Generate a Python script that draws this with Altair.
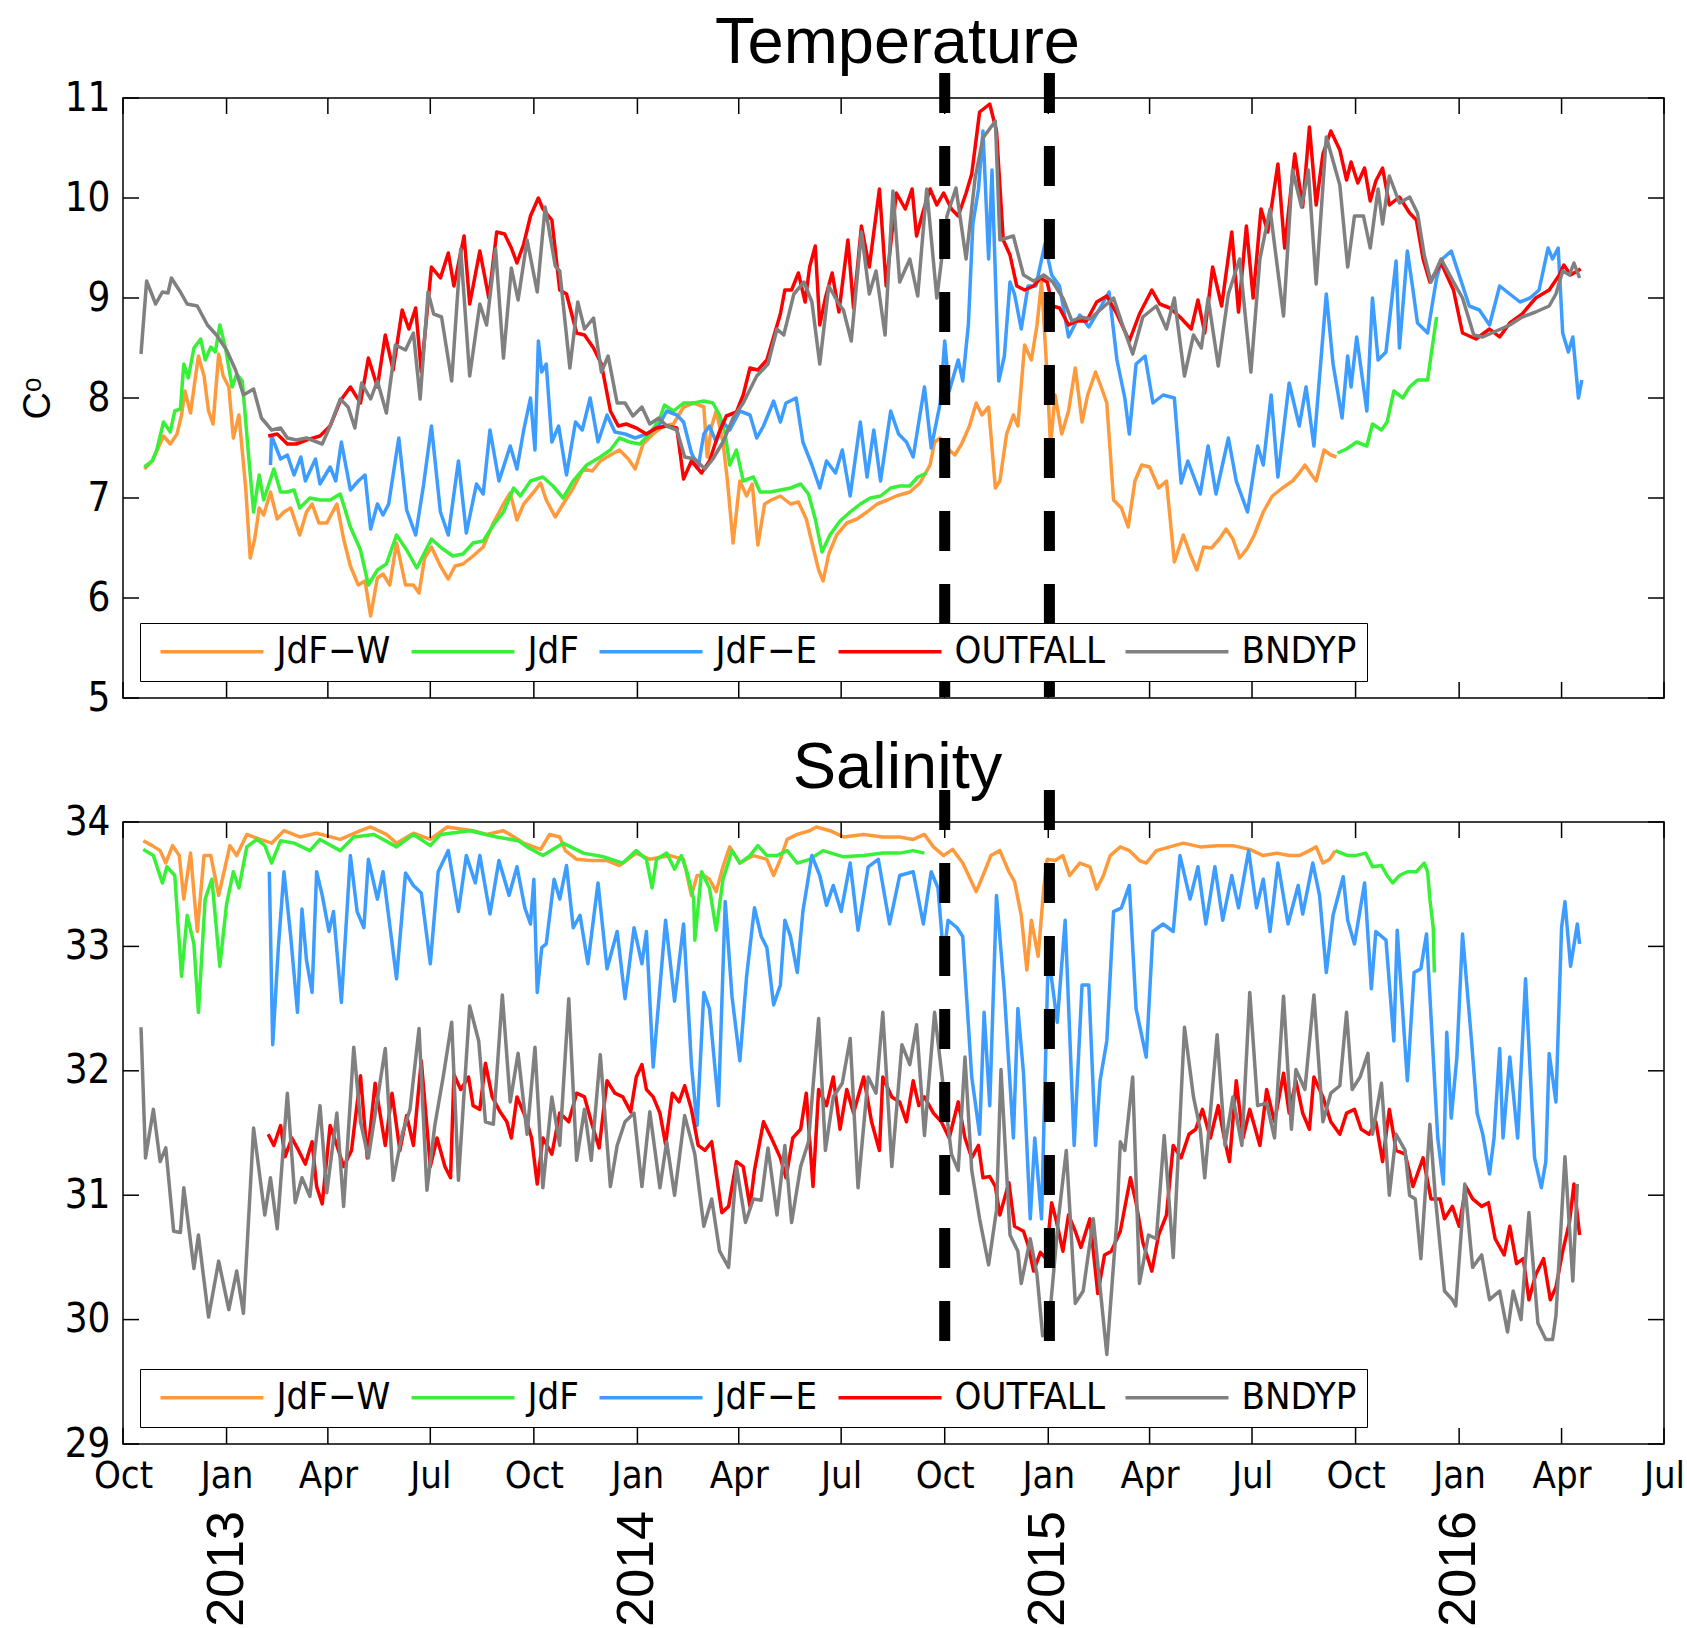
import altair as alt
import pandas as pd

START = pd.Timestamp("2012-10-01")

STATIONS = ["JdF\u2212W", "JdF", "JdF\u2212E", "OUTFALL", "BNDYP"]
COLORS = ["#ff9a3c", "#38f038", "#3c9cff", "#ff0000", "#808080"]
TITLES = ["Temperature", "Salinity"]

# ---------------- Temperature (days since 2012-10-01, degC) ----------------
T_JDFW_DAY = [19,26,30,36,42,48,52,55,60,64,67,72,76,80,85,89,94,98,103,109,113,117,121,125,131,137,143,149,157,163,168,174,181,190,196,202,209,215,220,226,231,237,243,251,258,263,268,274,282,289,295,302,311,320,329,338,344,350,356,365,371,376,384,391,400,409,417,424,433,441,449,455,462,471,480,489,498,507,516,519,523,527,533,537,542,548,554,559,564,570,576,584,593,600,607,613,618,622,627,634,643,652,661,670,679,687,699,708,717,721,726,732,739,745,752,758,763,769,775,779,785,791,795,801,807,812,816,821,824,828,834,840,846,852,857,864,869,874,880,887,893,899,905,912,920,927,934,942,948,954,960,967,974,980,986,992,999,1005,1013,1021,1030,1039,1045,1050,1056,1060,1067,1073,1078]
T_JDFW_VAL = [7.29,7.37,7.47,7.62,7.54,7.64,7.83,8.07,7.85,8.18,8.42,8.22,7.87,7.74,8.44,8.22,8.11,7.60,7.83,7.10,6.40,6.59,6.90,6.83,7.06,6.79,6.86,6.90,6.63,6.86,6.94,6.75,6.75,6.94,6.59,6.32,6.13,6.17,5.82,6.20,6.24,6.13,6.55,6.13,6.13,6.05,6.40,6.51,6.32,6.19,6.32,6.34,6.42,6.51,6.75,6.94,7.05,6.78,6.94,7.06,7.15,6.98,6.81,6.94,7.10,7.29,7.27,7.37,7.43,7.48,7.39,7.29,7.54,7.64,7.72,7.74,7.91,7.95,7.91,7.41,7.72,7.87,7.56,7.17,6.55,7.17,7.02,7.14,6.53,6.94,6.98,7.02,6.94,6.96,6.79,6.51,6.28,6.17,6.44,6.63,6.75,6.79,6.86,6.94,6.98,7.02,7.06,7.15,7.33,7.56,7.60,7.50,7.43,7.54,7.72,7.95,7.83,7.91,7.10,7.17,7.64,7.83,7.72,8.53,8.38,8.73,9.16,8.22,7.52,8.03,7.64,7.87,8.30,7.76,8.03,8.26,8.11,7.95,6.98,6.90,6.71,7.17,7.33,7.31,7.10,7.17,6.36,6.63,6.44,6.28,6.51,6.50,6.59,6.69,6.59,6.40,6.50,6.63,6.86,7.02,7.10,7.17,7.25,7.33,7.23,7.17,7.48,7.43,7.41]

T_JDF_DAY_A = [19,26,30,36,42,46,51,54,58,63,69,73,78,82,86,91,97,101,106,112,116,121,125,134,140,146,152,157,166,175,184,193,202,211,218,226,234,243,252,261,274,283,293,302,311,320,329,338,347,353,362,373,382,391,400,412,424,433,441,450,459,468,477,481,489,498,507,516,524,530,535,539,545,551,560,566,575,584,593,602,609,615,621,628,637,646,655,664,673,682,690,699,706,714]
T_JDF_VAL_A = [7.31,7.37,7.48,7.76,7.66,7.87,7.89,8.34,8.20,8.50,8.59,8.38,8.51,8.46,8.73,8.50,8.11,8.24,8.17,7.37,6.86,7.23,6.98,7.29,7.06,7.06,7.08,6.90,7.00,6.98,6.98,7.04,6.71,6.48,6.13,6.28,6.34,6.63,6.48,6.30,6.59,6.50,6.42,6.44,6.55,6.57,6.73,6.86,7.10,7.02,7.17,7.21,7.12,7.00,7.17,7.33,7.41,7.48,7.60,7.56,7.54,7.64,7.80,7.93,7.87,7.95,7.95,7.97,7.95,7.83,7.64,7.33,7.48,7.17,7.21,7.06,7.06,7.08,7.10,7.14,7.04,6.79,6.46,6.63,6.77,6.86,6.94,7.00,7.02,7.10,7.12,7.12,7.21,7.25]
T_JDF_DAY_B = [1079,1087,1096,1105,1110,1118,1123,1129,1137,1143,1150,1159,1162,1167]
T_JDF_VAL_B = [7.45,7.49,7.56,7.52,7.74,7.68,7.76,8.07,8.00,8.11,8.18,8.18,8.42,8.81]

T_JDFE_DAY = [131,132,140,146,152,158,162,171,175,184,189,194,202,209,215,220,226,231,236,245,252,260,267,274,282,289,298,305,314,320,326,334,344,350,356,362,366,369,372,376,381,387,394,402,408,415,422,430,437,446,455,465,476,483,492,498,505,511,516,521,527,533,539,548,557,563,569,578,584,589,598,604,612,619,625,633,639,646,655,661,667,673,682,689,696,702,712,718,726,730,734,742,746,751,755,760,764,769,772,778,783,788,792,798,804,811,819,825,832,840,850,858,867,876,883,890,894,900,908,915,924,934,940,946,957,964,971,982,989,999,1008,1013,1020,1026,1036,1045,1051,1058,1069,1075,1083,1088,1091,1096,1105,1110,1115,1122,1131,1134,1141,1146,1150,1159,1167,1172,1180,1187,1196,1205,1214,1223,1232,1241,1250,1258,1266,1270,1275,1279,1284,1288,1293,1296]
T_JDFE_VAL = [7.33,7.62,7.39,7.43,7.23,7.41,7.17,7.39,7.14,7.31,7.17,7.56,7.08,7.17,7.23,6.69,6.94,6.83,6.94,7.60,6.88,6.63,7.13,7.72,6.86,6.63,7.37,6.65,7.14,7.04,7.68,7.17,7.52,7.29,7.68,8.00,7.48,8.57,8.26,8.34,7.56,7.72,7.23,7.76,7.68,8.00,7.56,7.83,7.66,7.64,7.60,7.64,7.72,7.87,7.83,7.76,7.45,7.31,7.64,7.72,7.56,7.76,7.68,7.87,7.83,7.60,7.72,7.97,7.76,7.95,8.00,7.56,7.33,7.10,7.37,7.25,7.48,7.02,7.76,7.21,7.68,7.17,7.87,7.64,7.56,7.41,8.11,7.50,7.95,8.57,8.07,8.38,8.17,8.73,9.74,10.09,10.67,9.39,10.28,8.17,8.42,9.16,9.04,8.69,9.12,9.12,9.54,9.23,9.12,8.61,8.83,8.71,8.88,9.06,8.38,8.00,7.64,8.34,8.42,7.95,8.03,8.00,7.15,7.37,7.04,7.52,7.04,7.60,7.17,6.86,7.52,7.33,8.03,7.21,8.15,7.72,8.11,7.52,9.04,8.34,7.80,8.42,8.11,8.61,7.87,9.00,8.38,8.46,9.37,8.50,9.47,9.08,8.75,8.65,9.20,9.39,9.47,9.23,8.92,8.88,8.73,9.12,9.04,8.96,9.00,9.08,9.50,9.39,9.50,8.65,8.46,8.61,8.00,8.18]

T_OUT_DAY = [129,137,146,154,163,175,184,193,202,211,218,226,233,240,248,254,260,265,274,282,289,294,303,308,317,325,332,339,345,350,356,362,369,373,381,388,394,403,410,418,425,433,440,447,456,465,474,483,492,498,505,514,521,529,536,545,551,557,564,572,578,584,588,594,600,606,610,615,619,624,630,636,644,649,656,663,672,678,687,695,701,705,711,717,723,729,736,742,749,754,761,770,776,782,788,794,801,809,815,821,826,832,840,847,856,865,874,883,894,903,914,921,930,939,949,955,961,968,976,985,991,998,1004,1011,1017,1026,1032,1041,1048,1054,1060,1066,1073,1081,1087,1091,1097,1103,1108,1113,1119,1125,1134,1143,1149,1155,1161,1171,1182,1190,1202,1214,1223,1232,1243,1255,1267,1276,1280,1286,1295]
T_OUT_VAL = [7.62,7.64,7.54,7.54,7.58,7.62,7.72,7.97,8.11,7.95,8.40,8.11,8.63,8.28,8.88,8.69,8.90,8.26,9.31,9.20,9.45,9.12,9.62,8.94,9.47,9.00,9.66,9.64,9.50,9.35,9.54,9.82,10.00,9.89,9.78,9.08,9.04,8.65,8.63,8.50,8.34,7.87,7.72,7.74,7.70,7.64,7.70,7.72,7.70,7.19,7.37,7.25,7.37,7.64,7.82,7.86,8.03,8.30,8.28,8.38,8.61,8.84,9.08,9.08,9.25,8.96,9.31,9.52,8.73,9.00,9.25,8.86,9.58,8.90,9.72,9.31,10.09,9.12,10.05,9.89,10.09,9.62,9.87,10.09,9.93,10.05,9.89,9.82,10.05,10.24,10.86,10.94,10.67,9.58,9.43,9.12,9.08,9.12,9.20,9.16,8.92,8.90,8.73,8.77,8.77,8.96,9.02,8.84,8.57,8.84,9.08,8.94,8.90,8.81,8.69,8.98,8.65,9.31,8.92,9.66,8.86,9.72,9.00,9.89,9.66,10.34,9.50,10.44,9.91,10.71,9.93,10.44,10.67,10.48,10.18,10.36,10.15,10.30,9.97,10.17,10.30,9.93,10.01,9.85,9.78,9.39,9.16,9.35,9.08,8.65,8.59,8.69,8.61,8.75,8.84,9.00,9.08,9.23,9.33,9.23,9.29]

T_BND_DAY = [16,21,29,35,40,43,51,57,66,75,83,92,100,107,116,123,132,140,146,154,163,177,184,193,200,206,212,220,226,234,242,251,258,264,271,276,283,292,300,308,317,323,331,338,345,351,359,368,375,384,388,397,404,410,418,425,431,439,446,453,461,468,476,483,492,499,508,517,524,533,542,551,563,573,581,587,596,605,612,619,627,636,640,647,656,663,669,677,684,690,699,706,714,723,732,740,749,757,764,775,779,791,800,809,818,826,835,843,851,859,868,880,888,897,906,918,927,934,943,951,958,964,973,982,992,1002,1010,1019,1031,1039,1047,1053,1060,1069,1081,1088,1094,1102,1108,1115,1119,1125,1134,1143,1150,1156,1162,1171,1182,1190,1200,1208,1220,1232,1243,1255,1267,1273,1279,1285,1289,1294]
T_BND_VAL = [8.44,9.17,8.94,9.06,9.05,9.20,9.06,8.94,8.92,8.73,8.63,8.48,8.28,8.03,8.09,7.80,7.68,7.70,7.60,7.58,7.60,7.54,7.72,7.99,7.91,7.70,8.15,7.99,8.17,7.85,8.53,8.48,8.65,7.99,9.06,8.84,8.81,8.17,9.49,8.22,8.94,8.73,9.49,8.40,9.30,8.98,9.58,9.06,9.91,9.32,9.27,8.30,8.96,8.69,8.80,8.26,8.42,7.95,7.95,7.82,7.91,7.74,7.80,7.72,7.68,7.41,7.39,7.29,7.39,7.56,7.80,7.95,8.22,8.34,8.69,8.63,9.04,9.16,8.96,8.34,9.12,8.94,8.88,8.57,9.66,9.04,9.27,8.63,10.07,9.16,9.39,9.02,10.09,9.00,9.82,10.10,9.39,10.20,10.60,10.77,9.58,9.62,9.23,9.17,9.23,9.16,9.00,8.77,8.81,8.79,8.88,9.00,8.73,8.44,8.81,8.92,8.69,9.00,8.22,8.63,8.50,9.00,8.32,9.04,9.39,8.26,9.39,9.89,8.82,10.28,9.91,10.28,9.14,10.61,10.13,9.31,9.82,9.82,9.50,10.09,9.74,10.22,9.95,10.01,9.85,9.43,9.16,9.39,9.16,9.00,8.63,8.61,8.67,8.73,8.81,8.86,8.92,9.04,9.27,9.23,9.35,9.20]

# ---------------- Salinity (days since 2012-10-01, psu) ----------------
S_JDFW_DAY = [18,26,33,38,44,50,54,60,66,72,78,85,89,95,101,110,122,132,143,157,172,193,211,220,234,243,258,273,288,311,323,338,351,356,371,379,388,393,403,415,430,441,456,468,486,498,505,510,516,521,527,533,539,548,560,572,578,584,590,599,610,616,628,640,658,675,690,702,712,720,729,737,746,758,764,771,779,787,792,798,803,807,813,818,821,828,835,841,850,859,865,871,877,886,894,903,909,918,930,942,957,972,986,1001,1013,1025,1036,1045,1054,1060,1066,1072,1077]
S_JDFW_VAL = [33.85,33.81,33.77,33.67,33.81,33.73,33.38,33.75,33.12,33.73,33.73,33.41,33.57,33.81,33.73,33.90,33.86,33.83,33.93,33.88,33.91,33.86,33.93,33.96,33.90,33.83,33.91,33.86,33.96,33.93,33.90,33.93,33.86,33.83,33.78,33.90,33.88,33.77,33.70,33.69,33.69,33.65,33.75,33.70,33.73,33.70,33.41,33.57,33.57,33.54,33.44,33.64,33.80,33.67,33.73,33.70,33.57,33.70,33.86,33.90,33.93,33.96,33.93,33.88,33.90,33.88,33.88,33.86,33.90,33.80,33.73,33.78,33.67,33.44,33.57,33.73,33.77,33.60,33.52,33.25,32.81,33.21,32.92,33.47,33.70,33.69,33.73,33.57,33.67,33.64,33.46,33.57,33.73,33.80,33.77,33.69,33.67,33.77,33.80,33.83,33.80,33.81,33.81,33.78,33.73,33.75,33.73,33.73,33.77,33.80,33.67,33.70,33.77]

S_JDF_DAY_A = [18,27,35,39,46,52,57,63,67,73,79,86,92,98,103,110,119,126,132,140,152,166,175,193,205,223,243,258,273,282,308,332,351,359,373,391,409,427,444,456,465,470,474,483,490,496,501,507,508,514,521,527,533,541,548,557,564,572,581,590,599,610,622,640,658,675,690,702,712]
S_JDF_VAL_A = [33.78,33.73,33.51,33.64,33.57,32.76,33.25,33.02,32.47,33.38,33.54,32.84,33.34,33.60,33.47,33.80,33.86,33.81,33.67,33.85,33.83,33.77,33.86,33.77,33.88,33.90,33.80,33.90,33.81,33.90,33.93,33.88,33.85,33.80,33.73,33.83,33.75,33.72,33.67,33.77,33.70,33.47,33.70,33.75,33.62,33.73,33.60,33.38,33.05,33.60,33.47,33.13,33.54,33.77,33.67,33.73,33.81,33.73,33.73,33.77,33.67,33.70,33.77,33.72,33.73,33.75,33.75,33.77,33.75]
S_JDF_DAY_B = [1077,1088,1095,1104,1110,1118,1123,1128,1134,1141,1149,1156,1159,1161,1164,1165]
S_JDF_VAL_B = [33.77,33.73,33.73,33.75,33.64,33.65,33.57,33.51,33.57,33.60,33.60,33.67,33.60,33.38,33.15,32.79]

S_JDFE_DAY = [130,133,138,143,149,155,159,163,168,172,177,183,187,194,202,208,214,218,226,231,243,251,258,265,273,280,289,298,305,313,317,326,334,343,350,357,362,365,368,372,376,383,388,394,400,406,413,422,430,439,446,454,461,465,471,482,490,498,505,510,516,521,529,535,541,548,554,561,567,572,578,584,588,593,599,604,612,619,625,631,638,646,653,662,671,681,690,702,711,718,724,729,733,741,746,754,761,765,770,776,783,791,795,800,806,810,816,822,830,837,845,852,858,864,868,874,880,887,894,900,909,915,924,933,939,948,955,962,970,977,985,991,1000,1007,1013,1019,1026,1035,1044,1048,1057,1063,1069,1075,1084,1088,1094,1103,1109,1113,1122,1129,1132,1141,1147,1153,1158,1162,1168,1173,1176,1180,1185,1190,1198,1203,1208,1214,1218,1223,1226,1232,1239,1246,1254,1260,1264,1267,1273,1278,1281,1286,1292,1294]
S_JDFE_VAL = [33.60,32.21,32.99,33.60,33.08,32.47,33.30,32.89,32.63,33.60,33.41,33.12,33.28,32.55,33.73,33.28,33.15,33.70,33.38,33.60,32.74,33.59,33.49,33.43,32.86,33.60,33.77,33.28,33.73,33.51,33.73,33.26,33.69,33.41,33.64,33.31,33.18,33.54,32.63,32.99,33.02,33.54,33.38,33.65,33.15,33.25,32.86,33.51,32.82,33.12,32.58,33.15,32.86,33.12,32.03,33.21,32.56,33.18,32.05,31.56,32.63,32.50,31.72,33.36,32.60,32.08,32.76,33.31,33.08,32.99,32.53,32.69,33.21,33.08,32.79,33.28,33.73,33.57,33.33,33.49,33.28,33.67,33.13,33.64,33.70,33.18,33.57,33.60,33.18,33.60,33.47,32.92,33.21,33.15,33.08,31.95,31.49,32.47,31.72,33.41,32.63,31.46,32.50,31.98,30.81,31.46,30.81,32.94,32.39,33.21,31.40,32.69,32.69,31.40,31.92,32.24,33.28,33.31,33.49,32.50,32.11,33.12,33.18,33.12,33.73,33.38,33.64,33.18,33.64,33.21,33.57,33.31,33.77,33.31,33.54,33.12,33.67,33.18,33.49,33.26,33.67,33.41,32.79,33.25,33.56,33.21,33.02,33.51,32.66,33.12,33.05,32.24,33.13,31.92,32.79,32.82,33.10,32.44,31.46,31.09,32.31,31.62,32.11,33.10,32.24,31.66,31.49,31.17,31.46,32.18,31.46,32.11,31.46,32.74,31.30,31.06,31.27,32.14,31.75,33.15,33.36,32.84,33.18,33.02]

S_OUT_DAY = [129,134,140,144,150,156,162,168,172,177,184,190,196,203,211,217,224,233,239,246,252,258,265,273,279,286,291,294,300,307,311,317,322,328,335,341,345,350,357,363,368,373,381,388,396,403,410,416,423,430,437,444,451,456,461,465,471,477,482,488,494,499,505,511,517,523,527,532,538,545,551,557,561,569,576,584,589,595,602,607,613,618,625,631,637,643,649,658,665,672,675,683,690,696,702,707,712,720,727,734,742,748,754,760,764,770,775,779,787,792,800,804,809,815,820,825,829,835,840,846,851,859,866,872,878,886,895,900,906,914,920,927,933,940,947,953,959,966,973,979,983,989,995,1001,1010,1016,1023,1031,1036,1042,1048,1054,1058,1066,1073,1081,1087,1094,1100,1107,1113,1119,1125,1131,1139,1146,1155,1162,1170,1174,1181,1187,1193,1199,1207,1213,1219,1227,1232,1238,1244,1249,1255,1262,1268,1273,1279,1285,1289,1294]
S_OUT_VAL = [31.49,31.40,31.56,31.31,31.46,31.36,31.25,31.43,31.07,30.93,31.56,31.40,31.23,31.36,31.96,31.30,31.90,31.40,31.82,31.36,31.64,31.40,32.08,31.23,31.46,31.23,31.14,31.97,31.85,31.95,31.72,31.69,32.06,31.79,31.67,31.59,31.46,31.79,31.64,31.46,31.09,31.46,31.33,31.66,31.59,31.82,31.79,31.59,31.38,31.92,31.82,31.79,31.67,31.95,32.05,31.85,31.79,31.66,31.41,31.82,31.75,31.88,31.69,31.40,31.36,31.43,31.17,30.86,30.91,31.27,31.23,30.91,31.20,31.59,31.46,31.30,31.14,31.46,31.53,31.82,31.07,31.85,31.72,31.95,31.53,31.85,31.66,31.95,31.59,31.36,31.95,31.79,31.75,31.59,31.92,31.72,31.79,31.66,31.59,31.46,31.75,31.46,31.30,31.40,31.14,31.15,31.07,30.84,31.10,30.75,30.71,30.60,30.39,30.54,30.49,30.94,30.80,30.55,30.84,30.71,30.58,30.81,30.21,30.52,30.55,30.71,31.14,30.94,30.62,30.39,30.68,30.84,31.40,31.30,31.49,31.53,31.69,31.46,31.72,31.43,31.27,31.92,31.46,31.69,31.40,31.85,31.59,31.98,31.66,31.92,31.66,31.53,31.95,31.79,31.59,31.49,31.66,31.69,31.53,31.49,31.59,31.27,31.69,31.36,31.33,31.07,31.30,30.97,30.97,30.81,30.91,30.75,31.07,30.97,30.91,30.94,30.65,30.52,30.75,30.45,30.49,30.16,30.36,30.49,30.16,30.26,30.55,30.78,31.09,30.68]

S_BND_DAY = [16,20,27,33,38,45,51,54,63,67,76,85,94,101,107,116,126,131,137,146,153,159,166,175,181,190,196,205,211,218,233,240,248,255,263,270,277,285,292,298,308,316,322,329,337,344,351,359,366,373,381,388,396,403,410,416,424,433,439,446,454,461,468,477,483,490,499,508,516,523,530,538,545,553,560,567,573,581,588,594,602,609,618,624,631,639,646,653,662,669,675,683,692,699,705,712,721,729,736,742,748,754,761,769,776,780,788,795,798,806,812,817,822,831,838,846,853,862,868,874,883,886,890,897,903,911,918,925,933,943,951,957,961,972,979,986,994,1001,1008,1016,1023,1031,1038,1042,1050,1058,1066,1073,1081,1087,1092,1099,1106,1110,1118,1125,1131,1139,1143,1148,1153,1161,1166,1174,1181,1184,1192,1199,1207,1214,1223,1230,1235,1242,1249,1257,1264,1270,1273,1281,1288,1292]
S_BND_VAL = [32.35,31.30,31.69,31.27,31.38,30.71,30.70,31.06,30.41,30.68,30.02,30.47,30.08,30.39,30.05,31.54,30.84,31.14,30.73,31.82,30.94,31.14,30.99,31.72,31.02,31.66,30.91,32.19,31.59,31.30,32.18,31.12,31.49,31.69,32.34,31.04,31.56,31.98,32.39,31.12,32.52,32.24,31.59,31.57,32.61,31.75,32.14,31.49,32.19,31.06,31.79,31.40,32.58,31.28,31.69,31.28,32.13,31.07,31.40,31.59,31.66,31.07,31.67,31.06,31.43,31.00,31.64,31.33,30.75,30.97,30.55,30.42,31.23,30.78,30.97,30.96,31.38,30.84,31.40,30.78,31.23,31.43,32.42,31.36,31.79,31.90,32.26,31.06,31.95,31.82,32.47,31.23,32.21,32.05,32.37,31.48,32.47,31.85,31.33,31.20,32.11,31.20,30.81,30.44,30.88,32.01,30.68,30.55,30.29,30.65,30.36,29.87,29.90,30.81,31.36,30.13,30.23,30.81,30.26,29.72,30.81,31.43,31.36,31.95,30.29,30.68,30.65,31.48,30.50,32.35,31.79,31.53,31.14,32.29,31.40,31.79,31.40,32.63,31.72,31.74,31.46,32.60,31.53,32.01,31.85,32.61,31.59,31.82,31.88,32.47,31.85,31.95,32.14,31.49,31.90,31.00,31.49,31.36,31.00,30.97,30.49,31.57,30.97,30.23,30.16,30.11,31.09,30.42,30.52,30.16,30.23,29.90,30.23,30.00,30.86,29.97,29.84,29.84,30.03,31.31,30.31,31.09]

# ---------------- axes / annotations ----------------
X_TICK_DATES = ["2012-10-01","2013-01-01","2013-04-01","2013-07-01","2013-10-01","2014-01-01",
                "2014-04-01","2014-07-01","2014-10-01","2015-01-01","2015-04-01","2015-07-01",
                "2015-10-01","2016-01-01","2016-04-01","2016-07-01"]
T_TICKS = [5, 6, 7, 8, 9, 10, 11]
S_TICKS = [29, 30, 31, 32, 33, 34]
YEAR_LABELS = ["2013", "2014", "2015", "2016"]
YEAR_DATES = ["2013-01-01", "2014-01-01", "2015-01-01", "2016-01-01"]
EVENT_DATES = ["2014-10-01", "2015-01-02"]

NARROW = "Liberation Sans Narrow, Arial Narrow, DejaVu Sans Condensed, Liberation Sans, sans-serif"
REG = "Liberation Sans, Arial, Helvetica, sans-serif"

W = 1541
H_T = 600
H_S = 622


def build(series):
    rows = []
    for station, seg, days, vals in series:
        for d, v in zip(days, vals):
            rows.append({"station": station, "seg": station + seg,
                         "date": START + pd.Timedelta(days=d), "value": v})
    return pd.DataFrame(rows)


temp_df = build([
    (STATIONS[0], "a", T_JDFW_DAY, T_JDFW_VAL),
    (STATIONS[1], "a", T_JDF_DAY_A, T_JDF_VAL_A),
    (STATIONS[1], "b", T_JDF_DAY_B, T_JDF_VAL_B),
    (STATIONS[2], "a", T_JDFE_DAY, T_JDFE_VAL),
    (STATIONS[3], "a", T_OUT_DAY, T_OUT_VAL),
    (STATIONS[4], "a", T_BND_DAY, T_BND_VAL),
])
sal_df = build([
    (STATIONS[0], "a", S_JDFW_DAY, S_JDFW_VAL),
    (STATIONS[1], "a", S_JDF_DAY_A, S_JDF_VAL_A),
    (STATIONS[1], "b", S_JDF_DAY_B, S_JDF_VAL_B),
    (STATIONS[2], "a", S_JDFE_DAY, S_JDFE_VAL),
    (STATIONS[3], "a", S_OUT_DAY, S_OUT_VAL),
    (STATIONS[4], "a", S_BND_DAY, S_BND_VAL),
])

xtick_df = pd.DataFrame({"date": pd.to_datetime(X_TICK_DATES)})
year_df = pd.DataFrame({"date": pd.to_datetime(YEAR_DATES), "label": YEAR_LABELS})
event_df = pd.DataFrame({"date": pd.to_datetime(EVENT_DATES)})

x_values = [alt.DateTime(year=int(s[:4]), month=int(s[5:7]), date=1) for s in X_TICK_DATES]
x_scale = alt.Scale(domain=[alt.DateTime(year=2012, month=10, date=1),
                            alt.DateTime(year=2016, month=7, date=1)])


def panel(df, ticks, ydom, height, title, ytitle, legend_y, show_labels, rule_top, rule_bot,
          title_y):
    xaxis = alt.Axis(values=x_values, format="%b", labels=show_labels, ticks=False, tickSize=0,
                     domain=False, grid=False, title=None, labelFont=NARROW, labelFontSize=38,
                     labelColor="black", labelPadding=13, labelOverlap=False, labelFlush=False)
    X = alt.X("date:T", scale=x_scale, axis=xaxis)
    yaxis = alt.Axis(values=ticks, ticks=False, tickSize=0, domain=False, grid=False,
                     title=ytitle, labelFont=NARROW, labelFontSize=40, labelColor="black",
                     labelPadding=13, titleFont=REG, titleFontSize=38, titleFontWeight="normal",
                     titleColor="black", titlePadding=7)
    Y = alt.Y("value:Q", scale=alt.Scale(domain=ydom, nice=False, zero=False), axis=yaxis)

    legend = alt.Legend(title=None, orient="none", legendX=17, legendY=legend_y,
                        direction="horizontal", symbolType="stroke", symbolSize=10609,
                        symbolStrokeWidth=3.4, labelFont=NARROW, labelFontSize=38,
                        labelColor="black", labelOffset=11, symbolOffset=8.5,
                        columnPadding=10, padding=10, clipHeight=37, strokeColor="black",
                        fillColor="white", labelLimit=0)

    lines = alt.Chart(df).mark_line(strokeWidth=3.5, strokeJoin="round").encode(
        x=X, y=Y,
        color=alt.Color("station:N", scale=alt.Scale(domain=STATIONS, range=COLORS),
                        sort=STATIONS, legend=legend),
        detail="seg:N",
        order=alt.Order("date:T"),
    )
    ytick_df = pd.DataFrame({"value": ticks})
    ytl = alt.Chart(ytick_df).mark_rule(color="black", strokeWidth=1.5).encode(
        y=Y, x=alt.value(0), x2=alt.value(16))
    ytr = alt.Chart(ytick_df).mark_rule(color="black", strokeWidth=1.5).encode(
        y=Y, x=alt.value(W - 16), x2=alt.value(W))
    xtt = alt.Chart(xtick_df).mark_rule(color="black", strokeWidth=1.5).encode(
        x=X, y=alt.value(0), y2=alt.value(16))
    xtb = alt.Chart(xtick_df).mark_rule(color="black", strokeWidth=1.5).encode(
        x=X, y=alt.value(height - 16), y2=alt.value(height))
    ev = alt.Chart(event_df).mark_rule(color="black", strokeWidth=11, strokeDash=[40, 33]).encode(
        x=X, y=alt.value(rule_top), y2=alt.value(rule_bot))
    ttl = alt.Chart(pd.DataFrame({"t": [title]})).mark_text(
        font=REG, fontSize=65, baseline="alphabetic", align="center", color="black").encode(
        text="t:N", x=alt.value(W / 2 + 4), y=alt.value(title_y))
    layers = [lines, ytl, ytr, xtt, xtb, ev, ttl]
    if show_labels:
        yrs = alt.Chart(year_df).mark_text(angle=270, align="right", baseline="middle",
                                           font=REG, fontSize=52, color="black").encode(
            x=X, y=alt.value(height + 67), text="label:N")
        layers.append(yrs)
    return alt.layer(*layers).properties(width=W, height=height)


top = panel(temp_df, T_TICKS, [5, 11], H_T, TITLES[0], "C\u1d52", 525, False, -25, H_T + 22, -35)
bot = panel(sal_df, S_TICKS, [29, 34], H_S, TITLES[1], None, 547, True, -32, H_S, -34)

chart = alt.vconcat(top, bot, spacing=8).resolve_scale(color="independent").resolve_legend(
    color="independent").properties(
    padding={"left": 18, "top": 10, "right": 0, "bottom": 0},
    background="white",
).configure_view(stroke="black", strokeWidth=1.5)

chart.save("out.html", embed_options={"renderer": "svg", "actions": False})
